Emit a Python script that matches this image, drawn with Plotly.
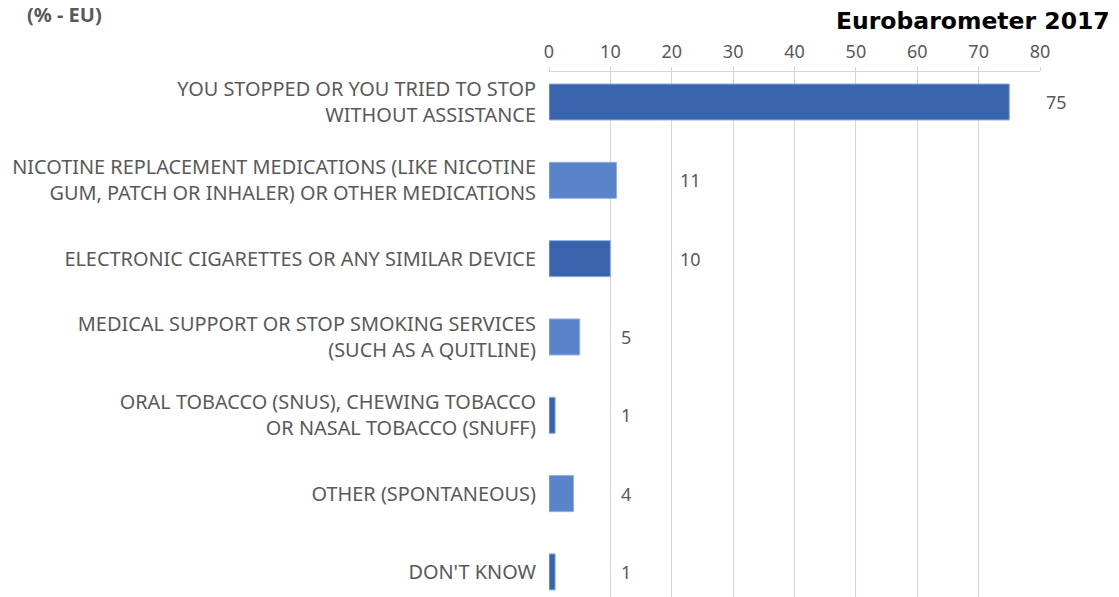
import plotly.graph_objects as go

categories = [
    "YOU STOPPED OR YOU TRIED TO STOP<br>WITHOUT ASSISTANCE",
    "NICOTINE REPLACEMENT MEDICATIONS (LIKE NICOTINE<br>GUM, PATCH OR INHALER) OR OTHER MEDICATIONS",
    "ELECTRONIC CIGARETTES OR ANY SIMILAR DEVICE",
    "MEDICAL SUPPORT OR STOP SMOKING SERVICES<br>(SUCH AS A QUITLINE)",
    "ORAL TOBACCO (SNUS), CHEWING TOBACCO<br>OR NASAL TOBACCO (SNUFF)",
    "OTHER (SPONTANEOUS)",
    "DON'T KNOW",
]
values = [75, 11, 10, 5, 1, 4, 1]
label_text = ["75", "11", "10", "5", "1", "4", "1"]
label_pos = [82.7, 23.0, 23.0, 12.5, 12.5, 12.5, 12.5]
dark = "#3863AD"
light = "#5A84CA"
colors = [dark, light, dark, light, dark, light, dark]
xticks = [0, 10, 20, 30, 40, 50, 60, 70, 80]
XMAX = 80

FONT = "Noto Sans"
GRAY = "#595959"

idx = list(range(len(categories)))
fig = go.Figure()
fig.add_trace(go.Bar(
    y=idx, x=values, orientation="h",
    marker=dict(color=colors, line=dict(color="#8FB0E0", width=1)),
    width=0.46, hoverinfo="skip",
))
for i, (t, p) in enumerate(zip(label_text, label_pos)):
    fig.add_annotation(xref="paper", x=p / XMAX, y=i, text=t, showarrow=False,
                       xanchor="center",
                       font=dict(family=FONT, size=18, color=GRAY))

fig.update_layout(
    width=1119, height=597,
    margin=dict(l=549, r=79, t=72, b=0),
    paper_bgcolor="white", plot_bgcolor="white",
    showlegend=False,
    xaxis=dict(side="top", range=[0, XMAX], tickvals=xticks,
               showgrid=True, gridcolor="#D9D5D5", gridwidth=1,
               showline=True, linecolor="#D9D5D5", zeroline=False,
               ticks="outside", ticklen=4, tickcolor="#D9D5D5",
               ticklabelstandoff=2,
               tickfont=dict(family=FONT, size=18, color=GRAY)),
    yaxis=dict(range=[6.32, -0.383], tickvals=idx, ticktext=categories,
               showgrid=False, zeroline=False, showline=False,
               ticklabelstandoff=12,
               tickfont=dict(family=FONT, size=19.9, color=GRAY)),
)
fig.add_annotation(xref="paper", yref="paper", x=-1.067, y=1.14, yanchor="top",
                   xanchor="left", text="<b>(% - EU)</b>", showarrow=False,
                   font=dict(family=FONT, size=20, color="#595959"))
fig.add_annotation(xref="paper", yref="paper", x=1.147, y=1.128, yanchor="top",
                   xanchor="right", text="<b>Eurobarometer 2017</b>", showarrow=False,
                   font=dict(family="DejaVu Sans", size=23.5, color="black"))
fig.write_html("out.html")
